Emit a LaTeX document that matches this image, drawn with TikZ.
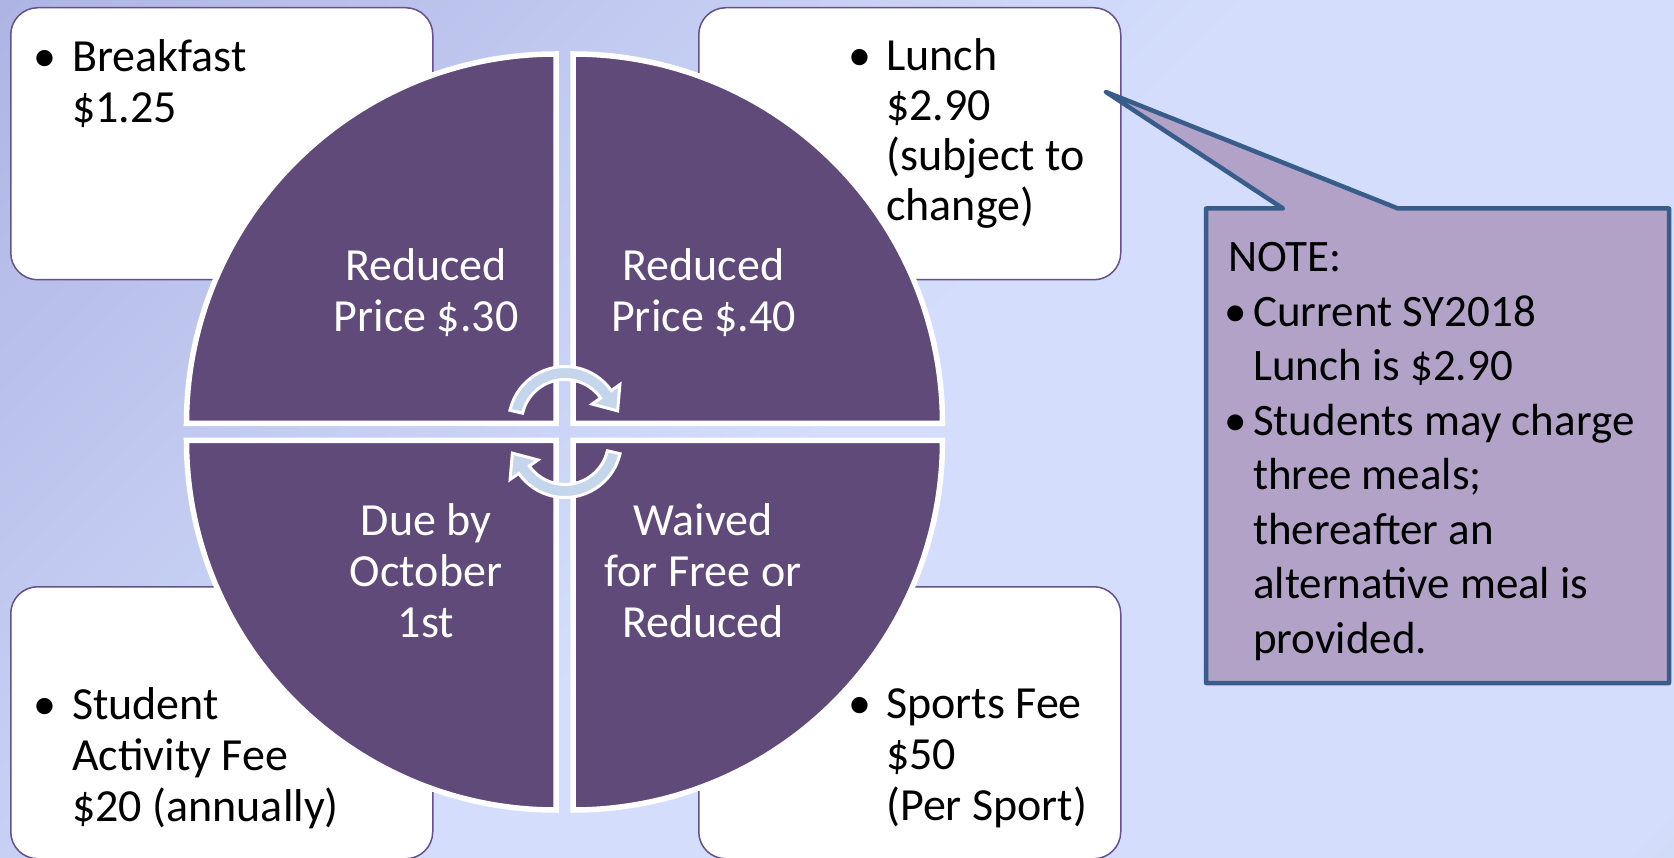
\documentclass[tikz,border=0pt]{standalone}
\usepackage{fontspec}
\setmainfont{Carlito}
\usetikzlibrary{positioning}
\definecolor{bgdark}{RGB}{158,164,218}
\definecolor{bglight}{RGB}{212,222,252}
\definecolor{bggrey}{RGB}{178,196,200}
\definecolor{quadpurple}{RGB}{95,74,122}
\definecolor{tileedge}{RGB}{100,80,140}
\definecolor{cycblue}{RGB}{197,213,236}
\definecolor{notefill}{RGB}{178,162,199}
\definecolor{noteedge}{RGB}{56,93,138}
\pgfdeclarehorizontalshading{bgshade}{100bp}{color(0bp)=(bgdark); color(25bp)=(bgdark);
  color(50bp)=(bglight); color(67bp)=(bglight); color(75bp)=(bggrey); color(100bp)=(bggrey)}
\newcommand{\bitem}[1]{\llap{\textbullet\hspace{#1}}}
\newcommand{\ind}{\hspace*{25pt}}

\begin{document}
\begin{tikzpicture}[x=1pt, y=-1pt,
  tile/.style={draw=tileedge, line width=1.5pt, fill=white, rounded corners=27pt,
               minimum width=422pt, minimum height=272pt, anchor=north west},
  quad/.style={fill=quadpurple, draw=white, line width=5.5pt},
  cycarr/.style={fill=cycblue, draw=white, line width=3pt},
  lbl/.style={font=\fontsize{46}{51}\selectfont, align=left, anchor=base west, inner sep=0pt},
  qlbl/.style={font=\fontsize{46}{51}\selectfont, text=white, align=center,
               anchor=base, inner sep=0pt}]
  \useasboundingbox (0,0) rectangle (1674,858);

  % Background
  \begin{scope}
    \clip (0,0) rectangle (1674,858);
    \shade[shading=bgshade, shading angle=-45] (-429,-837) rectangle (2103,1695);
  \end{scope}

  % Corner boxes
  \node[tile] (bfastbox) at (10,7) {};
  \node[tile] (lunchbox) at (698,7) {};
  \node[tile] (actbox) at (10,586) {};
  \node[tile] (sportbox) at (698,586) {};

  % Four quarter pieces
  \path[quad] (556,423.5) -- (186.5,423.5) arc[start angle=180, end angle=270, radius=369.5] -- cycle;
  \path[quad] (573,423.5) -- (573,54) arc[start angle=270, end angle=360, radius=369.5] -- cycle;
  \path[quad] (573,440.5) -- (942.5,440.5) arc[start angle=0, end angle=90, radius=369.5] -- cycle;
  \path[quad] (556,440.5) -- (556,810) arc[start angle=90, end angle=180, radius=369.5] -- cycle;

  % Cycle arrows
  \begin{scope}[shift={(565,423)}]
    \path[cycarr] (193:56.5) arc[start angle=193, end angle=325, radius=56.5]
      -- (325:67) -- (347:54) -- (325:33) -- (325:43.5)
      arc[start angle=325, end angle=193, radius=43.5] -- cycle;
  \end{scope}
  \begin{scope}[shift={(565,441)}]
    \path[cycarr] (13:56.5) arc[start angle=13, end angle=145, radius=56.5]
      -- (145:67) -- (167:54) -- (145:33) -- (145:43.5)
      arc[start angle=145, end angle=13, radius=43.5] -- cycle;
  \end{scope}

  % Box texts (anchored at the last baseline)
  \node[lbl] (bfast) at (72,123) {\bitem{15.5pt}Breakfast\\\$1.25};
  \node[lbl, font=\fontsize{46}{50}\selectfont] (lunch) at (886,221)
    {\bitem{15pt}Lunch\\\$2.90\\(subject to\\change)};
  \node[lbl] (actfee) at (72,821) {\bitem{15.5pt}Student\\Activity Fee\\\$20 (annually)};
  \node[lbl] (sport) at (886,820) {\bitem{15pt}Sports Fee\\\$50\\(Per Sport)};

  % Quarter texts
  \node[qlbl] (redbf) at (426,332) {Reduced\\Price \$.30};
  \node[qlbl] (redlunch) at (703.5,332) {Reduced\\Price \$.40};
  \node[qlbl] (dueby) at (426,637) {Due by\\October\\1st};
  \node[qlbl] (waived) at (703,637) {Waived\\for Free or\\Reduced};

  % Callout
  \coordinate (tip) at (1106,92);
  \draw[line width=4.5pt, draw=noteedge, fill=notefill, line join=round]
    (1206,208.5) -- (1283,208.5) -- (tip) -- (1398,208.5) -- (1669,208.5)
    -- (1669,683) -- (1206,683) -- cycle;
  \node[lbl, font=\fontsize{45}{54.5}\selectfont] (note) at (1228,653)
    {NOTE:\\\ind\bitem{6.5pt}Current SY2018\\\ind Lunch is \$2.90\\
     \ind\bitem{6.5pt}Students may charge\\\ind three meals;\\\ind thereafter an\\
     \ind alternative meal is\\\ind provided.};
\end{tikzpicture}
\end{document}
